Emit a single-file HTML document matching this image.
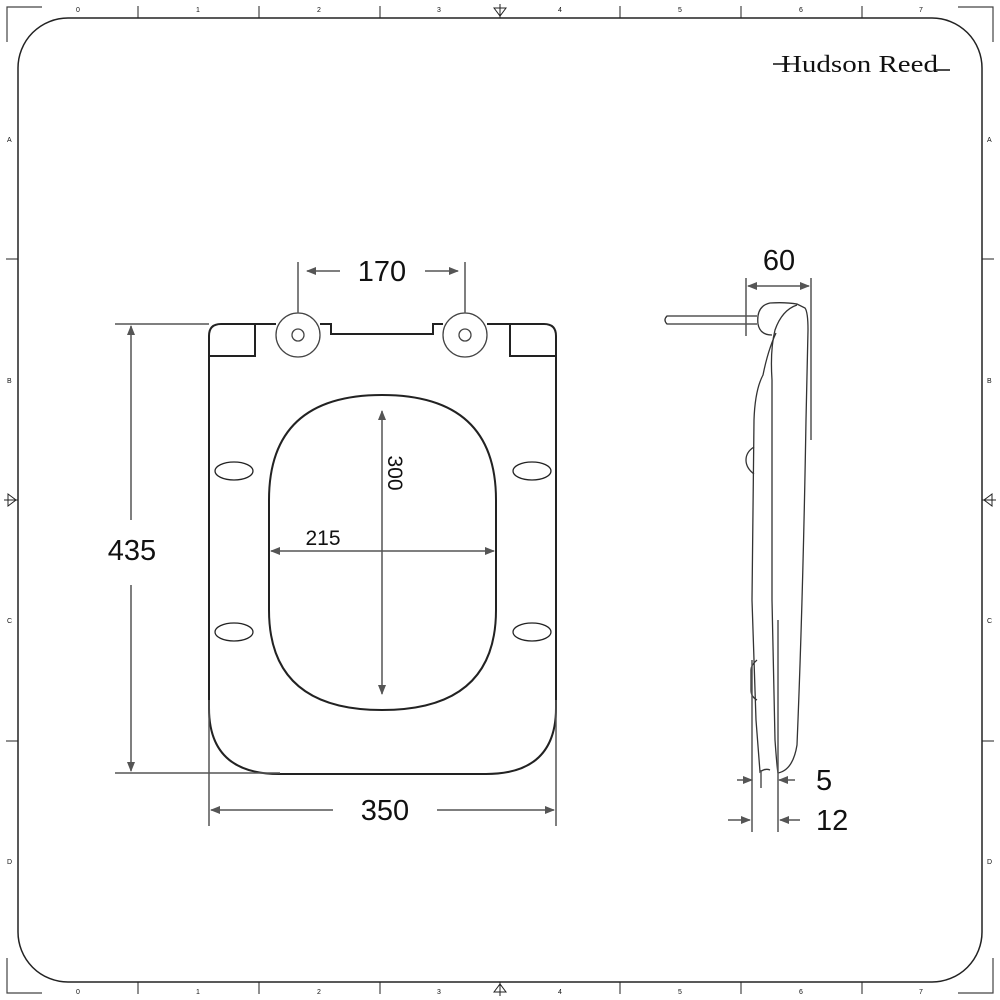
<!DOCTYPE html>
<html><head><meta charset="utf-8"><style>
html,body{margin:0;padding:0;background:#fff;}
svg{display:block;}
text{font-family:"Liberation Sans",sans-serif;fill:#111;}
.s{font-size:7px;fill:#333;}
</style></head><body>
<svg width="1000" height="1000" viewBox="0 0 1000 1000" xmlns="http://www.w3.org/2000/svg">
<defs>
<marker id="a" markerWidth="10" markerHeight="8" refX="9" refY="4" orient="auto" markerUnits="userSpaceOnUse"><path d="M0,0 L10,4 L0,8 Z" fill="#555"/></marker>
</defs>
<rect x="18" y="18" width="964" height="964" rx="50" ry="50" fill="none" stroke="#222" stroke-width="1.5"/>
<path d="M7,42 V7 H42 M958,7 H993 V42 M7,958 V993 H42 M958,993 H993 V958" fill="none" stroke="#444" stroke-width="1.2"/>
<g stroke="#222" stroke-width="1">
<path d="M138,6V18 M259,6V18 M380,6V18 M620,6V18 M741,6V18 M862,6V18"/>
<path d="M138,982V994 M259,982V994 M380,982V994 M620,982V994 M741,982V994 M862,982V994"/>
<path d="M6,259H18 M6,741H18 M982,259H994 M982,741H994"/>
<path d="M500,4V18 M494,8L500,16L506,8Z M500,982V996 M494,992L500,984L506,992Z" fill="none"/>
<path d="M4,500H18 M8,494L16,500L8,506Z M982,500H996 M992,494L984,500L992,506Z" fill="none"/>
</g>
<g class="s">
<text x="76" y="12">0</text><text x="196" y="12">1</text><text x="317" y="12">2</text><text x="437" y="12">3</text><text x="558" y="12">4</text><text x="678" y="12">5</text><text x="799" y="12">6</text><text x="919" y="12">7</text>
<text x="76" y="994">0</text><text x="196" y="994">1</text><text x="317" y="994">2</text><text x="437" y="994">3</text><text x="558" y="994">4</text><text x="678" y="994">5</text><text x="799" y="994">6</text><text x="919" y="994">7</text>
<text x="7" y="142">A</text><text x="7" y="383">B</text><text x="7" y="623">C</text><text x="7" y="864">D</text>
<text x="987" y="142">A</text><text x="987" y="383">B</text><text x="987" y="623">C</text><text x="987" y="864">D</text>
</g>
<text x="781" y="72" textLength="157" lengthAdjust="spacingAndGlyphs" style="font-family:'Liberation Serif',serif;font-size:24px">Hudson Reed</text>
<path d="M773,64H790 M935,70H950" stroke="#111" stroke-width="1.5"/>

<path d="M276,324 H221 Q209,324 209,336 V708 Q209,774 279,774 H486 Q556,774 556,708 V336 Q556,324 544,324 H487 M443,324 H433 V334 H331 V324 H320" fill="none" stroke="#222" stroke-width="2"/>
<path d="M209,356 H255 V324 M556,356 H510 V324" fill="none" stroke="#222" stroke-width="2"/>
<circle cx="298" cy="335" r="22" fill="none" stroke="#444" stroke-width="1.3"/>
<circle cx="298" cy="335" r="6" fill="none" stroke="#444" stroke-width="1.3"/>
<circle cx="465" cy="335" r="22" fill="none" stroke="#444" stroke-width="1.3"/>
<circle cx="465" cy="335" r="6" fill="none" stroke="#444" stroke-width="1.3"/>
<path d="M269,500 Q269,395 382,395 Q496,395 496,500 V610 Q496,710 382,710 Q269,710 269,610 Z" fill="none" stroke="#222" stroke-width="2"/>
<g fill="none" stroke="#222" stroke-width="1.3">
<ellipse cx="234" cy="471" rx="19" ry="9"/><ellipse cx="532" cy="471" rx="19" ry="9"/>
<ellipse cx="234" cy="632" rx="19" ry="9"/><ellipse cx="532" cy="632" rx="19" ry="9"/>
</g>
<g stroke="#555" stroke-width="1.5" fill="none">
<path d="M298,262V313 M465,262V313"/>
<path d="M340,271H307" marker-end="url(#a)"/><path d="M425,271H458" marker-end="url(#a)"/>
<path d="M115,324H209 M115,773H280"/>
<path d="M131,520V326" marker-end="url(#a)"/><path d="M131,585V771" marker-end="url(#a)"/>
<path d="M209,700V826 M556,700V826"/>
<path d="M333,810H211" marker-end="url(#a)"/><path d="M437,810H554" marker-end="url(#a)"/>
<path d="M382,550V411" marker-end="url(#a)"/><path d="M382,550V694" marker-end="url(#a)"/>
<path d="M382,551H271" marker-end="url(#a)"/><path d="M382,551H494" marker-end="url(#a)"/>
</g>
<text x="382" y="281" font-size="29" text-anchor="middle">170</text>
<text x="132" y="560" font-size="29" text-anchor="middle">435</text>
<text x="385" y="820" font-size="29" text-anchor="middle">350</text>
<text x="323" y="545" font-size="21" text-anchor="middle">215</text>
<text x="0" y="0" font-size="21" text-anchor="middle" transform="translate(388,473) rotate(90)">300</text>

<g fill="none" stroke="#333" stroke-width="1.3">
<path d="M757,316 H667 Q663,320 667,324 H757"/>
<path d="M772,335 Q760,335 758,324 Q756,306 770,303 Q785,302 797,304 L805,308 Q808,312 808,330 L806,420 Q803,600 797,745 Q793,770 778,773"/>
<path d="M797,305 Q782,310 775,330 Q770,350 772,380 L772,600 L775,740 Q777,768 778,773"/>
<path d="M776,333 Q768,350 763,375 Q755,390 754,420 L752,600 L756,720 L760,772 Q765,768 770,770"/>
<path d="M754,447 Q746,452 746,460 Q746,468 754,474"/>
<path d="M757,660 Q751,665 751,670 V690 Q751,697 757,700"/>
</g>
<g stroke="#555" stroke-width="1.5" fill="none">
<path d="M746,278V336 M811,278V440"/>
<path d="M778,286H748" marker-end="url(#a)"/><path d="M778,286H809" marker-end="url(#a)"/>
<path d="M752,660V832 M778,620V832 M761,770V788"/>
<path d="M737,780H752" marker-end="url(#a)"/><path d="M795,780H779" marker-end="url(#a)"/>
<path d="M728,820H750" marker-end="url(#a)"/><path d="M800,820H780" marker-end="url(#a)"/>
</g>
<text x="779" y="270" font-size="29" text-anchor="middle">60</text>
<text x="816" y="790" font-size="29">5</text>
<text x="816" y="830" font-size="29">12</text>
</svg>
</body></html>
